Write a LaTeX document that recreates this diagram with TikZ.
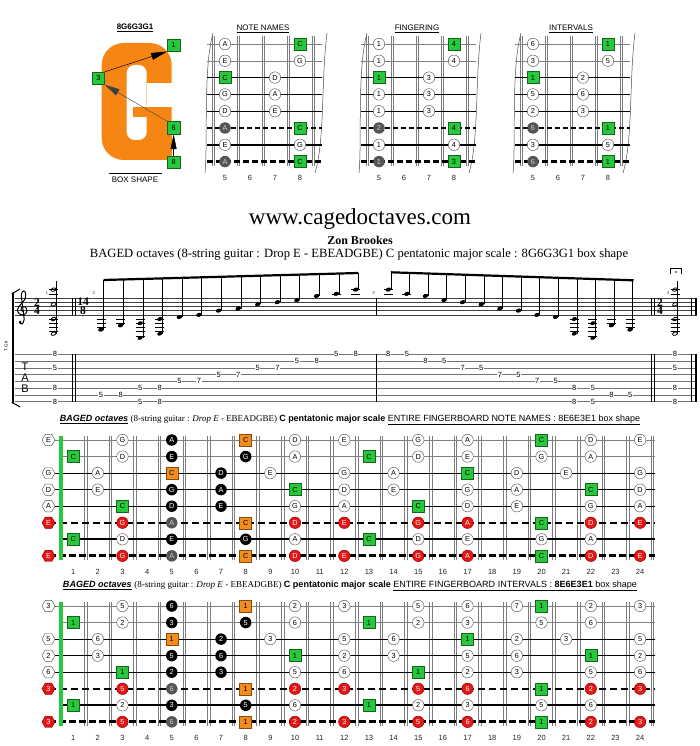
\documentclass[tikz,border=0pt]{standalone}
\usepackage{fontspec}
\usepackage{graphicx}
\setmainfont{Liberation Serif}
\setsansfont{Liberation Sans}
\usetikzlibrary{shapes.geometric,arrows.meta}

\definecolor{Gor}{RGB}{246,134,20}
\definecolor{mgreen}{RGB}{40,200,60}
\definecolor{mgreenb}{RGB}{20,100,30}
\definecolor{morange}{RGB}{243,140,30}
\definecolor{moranb}{RGB}{140,75,10}
\definecolor{mred}{RGB}{228,22,22}
\definecolor{mredb}{RGB}{140,0,0}
\definecolor{mgray}{RGB}{85,85,85}
\definecolor{fretc}{RGB}{125,125,125}

\newcommand\mkf{\fontsize{7.3}{8}\selectfont\sffamily}
\tikzset{
 mk/.style={inner sep=0pt, font=\mkf, line width=0.45pt},
 wc/.style={mk, circle, minimum size=11.5pt, draw=black!65, fill=white},
 bc/.style={mk, circle, minimum size=11.5pt, fill=black, text=white},
 dc/.style={mk, circle, minimum size=11.5pt, fill=mgray, text=black!20},
 rc/.style={mk, circle, minimum size=11.5pt, fill=mred, draw=mredb, text=white},
 gs/.style={mk, rectangle, minimum size=12pt, fill=mgreen, draw=mgreenb},
 os/.style={mk, rectangle, minimum size=12pt, fill=morange, draw=moranb},
 wh/.style={mk, regular polygon, regular polygon sides=6, minimum size=13pt, draw=black!65, fill=white},
 rh/.style={mk, regular polygon, regular polygon sides=6, minimum size=13pt, fill=mred, draw=mredb, text=white},
 fn/.style={font=\fontsize{7.5}{8}\selectfont\sffamily, inner sep=0pt, text=black!85},
 tabn/.style={font=\fontsize{7.5}{8}\selectfont\sffamily, fill=white, inner sep=0.5pt},
 fretw/.style={fretc, line width=0.45pt},
 ledg/.style={line width=0.5pt},
 stemst/.style={line width=0.55pt},
 stl/.style={black!75, line width=0.45pt},
 tbl/.style={black!55, line width=0.45pt},
 tsig/.style={font=\bfseries\fontsize{11.5}{8.4}\selectfont, inner sep=0pt, align=center},
 mnum/.style={font=\fontsize{4.5}{5}\selectfont\sffamily, inner sep=0pt, text=black!70},
 ttl/.style={font=\fontsize{8}{9}\selectfont\sffamily, inner sep=0pt},
}
\def\ivC{1}\def\ivD{2}\def\ivE{3}\def\ivG{5}\def\ivA{6}
\newcommand\Lab[1]{#1}
\newcommand\sy[1]{314.8-2.1*(#1)}
\newcommand\nh[2]{\fill (#1,{\sy{#2}}) ellipse [x radius=2.7, y radius=1.85, rotate=20];}
\newcommand\hn[2]{\draw[line width=0.8pt] (#1,{\sy{#2}}) ellipse [x radius=2.5, y radius=1.6, rotate=20];}
\newcommand\bmk[3]{\foreach \s/\f/\l in {#3} {\node[#2] (#1-\s-\f) at ({48.5+24.65*\f},{16.55*(\s-1)}) {\Lab{\l}};}}
\newcommand\smk[3]{\foreach \s/\f/\l in {#3} {\node[#2] (#1-\s-\f) at ({100+25*\f},{44+16.8*(\s-1)}) {\l};}}

\newcommand\smallboard[4]{%
 \begin{scope}[shift={(#1,0)}]
  \foreach \k in {0,...,4} {\draw[fretw] ({213.5+25*\k-1.2},36) -- ++(0,130); \draw[fretw] ({213.5+25*\k+1.2},36) -- ++(0,130);}
  \draw[black!70, line width=0.5pt] (213,33) .. controls (203,70) and (208,140) .. (205,173);
  \draw[black!70, line width=0.5pt] (327,33) .. controls (321,80) and (325,140) .. (315,173);
  \draw[gray, line width=0.5pt] (207,44) -- (322,44);
  \draw[gray, line width=0.5pt] (207,60.8) -- (322,60.8);
  \draw[line width=0.6pt] (207,77.6) -- (322,77.6);
  \draw[line width=0.7pt] (207,94.4) -- (322,94.4);
  \draw[line width=0.8pt] (207,111.2) -- (322,111.2);
  \draw[line width=1.4pt, dash pattern=on 5pt off 3pt] (207,128) -- (322,128);
  \draw[line width=2pt] (207,144.8) -- (322,144.8);
  \draw[line width=2.8pt, dash pattern=on 6pt off 3pt] (207,161.6) -- (322,161.6);
  \node[ttl] (#2t) at (263,29) {\underline{#3}};
  \foreach \f in {5,...,8} {\node[fn] (#2n\f) at ({100+25*\f},177.7) {\f};}
  #4
 \end{scope}}

\newcommand\bigboard[3]{%
 \begin{scope}[shift={(0,#2)}]
  \foreach \n in {1,...,24} {\draw[fretw] ({60.8+24.65*\n-1.3},-4.5) -- ({60.8+24.65*\n-1.3},119.5); \draw[fretw] ({60.8+24.65*\n+1.3},-4.5) -- ({60.8+24.65*\n+1.3},119.5);}
  \draw[gray, line width=0.5pt] (48.5,0) -- (655,0);
  \draw[gray, line width=0.5pt] (60.8,16.55) -- (655,16.55);
  \draw[line width=0.55pt] (48.5,33.1) -- (655,33.1);
  \draw[line width=0.65pt] (48.5,49.65) -- (655,49.65);
  \draw[line width=0.75pt] (48.5,66.2) -- (655,66.2);
  \draw[line width=1.5pt, dash pattern=on 7pt off 4pt] (48.5,82.75) -- (655,82.75);
  \draw[line width=2.2pt] (60.8,99.3) -- (655,99.3);
  \draw[line width=3pt, dash pattern=on 7pt off 3pt] (48.5,115.85) -- (655,115.85);
  \fill[mgreen] (58.8,-4.5) rectangle (62.8,119.5);
  \bmk{#1}{wc}{1/3/G,1/10/D,1/12/E,1/15/G,1/17/A,1/22/D,1/24/E,
   2/3/D,2/10/A,2/15/D,2/17/E,2/20/G,2/22/A,
   3/2/A,3/9/E,3/12/G,3/14/A,3/19/D,3/21/E,3/24/G,
   4/2/E,4/12/D,4/14/E,4/17/G,4/19/A,4/24/D,
   5/10/G,5/12/A,5/17/D,5/19/E,5/22/G,5/24/A,
   7/3/D,7/10/A,7/15/D,7/17/E,7/20/G,7/22/A}
  \bmk{#1}{bc}{1/5/A,2/5/E,2/8/G,3/7/D,4/5/G,4/7/A,5/5/D,5/7/E,7/5/E,7/8/G}
  \bmk{#1}{dc}{6/5/A,8/5/A}
  \bmk{#1}{rc}{6/3/G,6/10/D,6/12/E,6/15/G,6/17/A,6/22/D,6/24/E,
   8/3/G,8/10/D,8/12/E,8/15/G,8/17/A,8/22/D,8/24/E}
  \bmk{#1}{gs}{1/20/C,2/1/C,2/13/C,3/17/C,4/10/C,4/22/C,5/3/C,5/15/C,6/20/C,7/1/C,7/13/C,8/20/C}
  \bmk{#1}{os}{1/8/C,3/5/C,6/8/C,8/8/C}
  \bmk{#1}{wh}{1/0/E,3/0/G,4/0/D,5/0/A}
  \bmk{#1}{rh}{6/0/E,8/0/E}
  \foreach \n in {1,...,24} {\node[fn] (#1n\n) at ({48.5+24.65*\n},131.7) {\n};}
  \node[inner sep=0pt] (#1t) at (350,-20) {#3};
 \end{scope}}

\newcommand\ttlhead{\sffamily\bfseries\itshape\underline{BAGED octaves}\ \rmfamily\mdseries\upshape(8-string guitar : \textit{Drop E} - EBEADGBE)\ \sffamily\bfseries C pentatonic major scale\mdseries\ }

\begin{document}
\begin{tikzpicture}[x=1pt,y=-1pt]
\useasboundingbox (0,0) rectangle (700,746);
\fill[white] (0,0) rectangle (700,746);

% ---------- G box shape ----------
\fill[Gor, rounded corners=22pt] (101.7,43) rectangle (171.7,160);
\fill[Gor] (140,125) rectangle (171.7,160);
\fill[white, rounded corners=8pt] (126.7,65) rectangle (146.7,140);
\fill[white] (146.7,83.3) rectangle (173,106.7);
\fill[Gor] (133,106.7) rectangle (147,117);
\node[font=\bfseries\fontsize{8}{9}\selectfont\sffamily, inner sep=0pt] (gtitle) at (135,28) {\underline{8G6G3G1}};
\node[gs, font=\fontsize{7.3}{8}\selectfont\sffamily, minimum size=12.5pt] (g1) at (173.6,45) {1};
\node[gs, font=\fontsize{7.3}{8}\selectfont\sffamily, minimum size=12.5pt] (g3) at (98.3,78.3) {3};
\node[gs, font=\fontsize{7.3}{8}\selectfont\sffamily, minimum size=12.5pt] (g6) at (173.6,127.7) {6};
\node[gs, font=\fontsize{7.3}{8}\selectfont\sffamily, minimum size=12.5pt] (g8) at (173.6,162.3) {8};
\draw[line width=0.5pt, -{Triangle[length=16pt,width=7pt]}] (g3.north east) -- (g1.south west);
\draw[line width=0.4pt, black!75, -{Triangle[length=15pt,width=7pt]}] (g6.north west) -- (g3.south east);
\draw[line width=0.5pt, -{Triangle[length=15pt,width=6pt]}] (g8.north) -- (g6.south);
\node[ttl] (bshape) at (135,180) {BOX SHAPE};
\draw[line width=0.5pt] (109,173.5) -- (162,173.5);

% ---------- small boards ----------
\smallboard{0}{N}{NOTE NAMES}{%
 \smk{N}{wc}{1/5/A,2/5/E,2/8/G,3/7/D,4/5/G,4/7/A,5/5/D,5/7/E,7/5/E,7/8/G}
 \smk{N}{gs}{1/8/C,3/5/C,6/8/C,8/8/C}
 \smk{N}{dc}{6/5/A,8/5/A}}
\smallboard{154}{F}{FINGERING}{%
 \smk{F}{wc}{1/5/1,2/5/1,2/8/4,3/7/3,4/5/1,4/7/3,5/5/1,5/7/3,7/5/1,7/8/4}
 \smk{F}{gs}{1/8/4,3/5/1,6/8/4,8/8/3}
 \smk{F}{dc}{6/5/2,8/5/1}}
\smallboard{308}{I}{INTERVALS}{%
 \smk{I}{wc}{1/5/6,2/5/3,2/8/5,3/7/2,4/5/5,4/7/6,5/5/2,5/7/3,7/5/3,7/8/5}
 \smk{I}{gs}{1/8/1,3/5/1,6/8/1,8/8/1}
 \smk{I}{dc}{6/5/6,8/5/6}}

% ---------- header ----------
\node[font=\fontsize{23}{25}\selectfont, inner sep=0pt] (www) at (360,219) {www.cagedoctaves.com};
\node[font=\bfseries\fontsize{12}{13}\selectfont, inner sep=0pt] (zon) at (360,240) {Zon Brookes};
\node[font=\fontsize{12.6}{13}\selectfont, inner sep=0pt] (sub) at (359,254) {BAGED octaves (8-string guitar : Drop E - EBEADGBE) C pentatonic major scale : 8G6G3G1 box shape};

% ---------- staff ----------
\foreach \k in {0,...,4} {\draw[stl] (15,{314.8-4.2*\k}) -- (696.5,{314.8-4.2*\k});}
\foreach \k in {1,...,8} {\draw[tbl] (15,{354.3+6.77*(\k-1)}) -- (696.5,{354.3+6.77*(\k-1)});}
\foreach \bx in {72.5,75,376,651.7,654.2,691.5} {\draw[line width=0.6pt] (\bx,298) -- (\bx,314.8); \draw[line width=0.6pt] (\bx,354.3) -- (\bx,401.7);}
\fill (694.5,298) rectangle (696.5,314.8);
\fill (694.5,354.3) rectangle (696.5,401.7);
\draw[line width=2pt] (12.7,293) -- (12.7,403);
\draw[line width=1pt] (11.8,293.5) .. controls (15,292) and (17,291) .. (20,289);
\draw[line width=1pt] (11.8,402.5) .. controls (15,404) and (17,405) .. (20,407);
\node[rotate=90, font=\fontsize{4.5}{5}\selectfont\sffamily, inner sep=0pt] (tgtr) at (6,346) {T-Gtr};
% treble clef
\draw[line width=1pt, line cap=round] plot[smooth, tension=0.7] coordinates {(23.5,311.5) (21,310) (21.5,307.5) (25,307) (27,310.5) (24.5,314.5) (19.5,314) (17.5,309.5) (21,304) (25,299) (25.5,293) (23.5,291) (21.5,294) (22,302) (23.5,314) (24,320) (22,324) (19.5,322.5)};
\fill (20.3,322) circle (1.4);
% time signatures (one node each, two stacked lines)
\node[tsig] (ts1) at (37,306.4) {2\\4};
\node[tsig] (ts2) at (83,306.4) {14\\8};
\node[tsig] (ts3) at (660,306.4) {2\\4};
% measure numbers
\node[mnum] (m1) at (47,293) {1};
\node[mnum] (m2) at (94,293) {2};
\node[mnum] (m3) at (373.5,293) {3};
\node[mnum] (m4) at (668,293) {4};
% chords (measures 1 and 4)
\foreach \x in {53.5,675} {
 \foreach \s in {12,5,-2,-9} {\hn{\x}{\s}}
 \foreach \q in {10,12,-2,-4,-6,-8} {\draw[ledg] ({\x-4.5},{\sy{\q}}) -- ({\x+4.5},{\sy{\q}});}
 \draw[stemst] ({\x+2.4},{\sy{-9}}) -- ({\x+2.4},281);
}
% measure 2
\draw[line width=2.2pt] (103.6,280) -- (358.4,273);
\foreach \x/\s/\t in {101/-7/-7,120.6/-5/-5,140.2/-4/-11,159.8/-2/-9,179.4/-1/-1,199/0/0,218.6/2/2,238.2/3/3,257.8/5/5,277.4/6/6,297/7/7,316.6/9/9,336.2/10/10,355.8/12/12}
 {\nh{\x}{\s}\nh{\x}{\t}\draw[stemst] ({\x+2.6},{\sy{\t}}) -- ({\x+2.6},{280-7*(\x-101)/254.8});}
% measure 3
\draw[line width=2.2pt] (390.9,272.3) -- (633.5,280.3);
\foreach \x/\s/\t in {388.3/12/12,406.9/10/10,425.5/9/9,444.1/7/7,462.7/6/6,481.3/5/5,499.9/3/3,518.5/2/2,537.1/0/0,555.7/-1/-1,574.3/-2/-9,592.9/-4/-11,611.5/-5/-5,630.1/-7/-7}
 {\nh{\x}{\s}\nh{\x}{\t}\draw[stemst] ({\x+2.6},{\sy{\t}}) -- ({\x+2.6},{272.3+8*(\x-388.3)/242.6});}
\foreach \x/\ls in {101/{-2,-4,-6},120.6/{-2,-4},140.2/{-2,-4,-6,-8,-10},159.8/{-2,-4,-6,-8},336.2/{10},355.8/{10,12},388.3/{10,12},406.9/{10},574.3/{-2,-4,-6,-8},592.9/{-2,-4,-6,-8,-10},611.5/{-2,-4},630.1/{-2,-4,-6}}
 {\foreach \q in \ls {\draw[ledg] ({\x-4.5},{\sy{\q}}) -- ({\x+4.5},{\sy{\q}});}}
% fermata
\draw[line width=0.6pt] (670.5,274) -- (670.5,268.5);
\draw[line width=0.6pt] (681.5,274) -- (681.5,268.5);
\draw[line width=1.6pt] (670.2,268.5) -- (681.8,268.5);
\fill (676,272) circle (0.9);
% tab
\node[font=\fontsize{11}{11}\selectfont\sffamily, inner sep=0pt] (tT) at (25,366.7) {T};
\node[font=\fontsize{11}{11}\selectfont\sffamily, inner sep=0pt] (tA) at (25,378) {A};
\node[font=\fontsize{11}{11}\selectfont\sffamily, inner sep=0pt] (tB) at (25,389) {B};
\foreach \x/\s/\f in {55/1/8,55/3/5,55/6/8,55/8/8,675/1/8,675/3/5,675/6/8,675/8/8,
 101/7/5,120.6/7/8,140.2/6/5,140.2/8/5,159.8/6/8,159.8/8/8,179.4/5/5,199/5/7,218.6/4/5,238.2/4/7,257.8/3/5,277.4/3/7,297/2/5,316.6/2/8,336.2/1/5,355.8/1/8,
 388.3/1/8,406.9/1/5,425.5/2/8,444.1/2/5,462.7/3/7,481.3/3/5,499.9/4/7,518.5/4/5,537.1/5/7,555.7/5/5,574.3/6/8,574.3/8/8,592.9/6/5,592.9/8/5,611.5/7/8,630.1/7/5}
 {\node[tabn] (tab-\x-\s) at (\x,{354.3+6.77*(\s-1)}) {\f};}

% ---------- big boards ----------
\bigboard{A}{440}{\resizebox{580pt}{!}{\ttlhead\underline{ENTIRE FINGERBOARD NOTE NAMES : 8E6E3E1 box shape}}}
\renewcommand\Lab[1]{\csname iv#1\endcsname}
\bigboard{B}{606}{\resizebox{574pt}{!}{\ttlhead\underline{ENTIRE FINGERBOARD INTERVALS : \textbf{8E6E3E1} box shape}}}
\node[wc] (B-1-19) at ({48.5+24.65*19},606) {7};
\end{tikzpicture}
\end{document}
